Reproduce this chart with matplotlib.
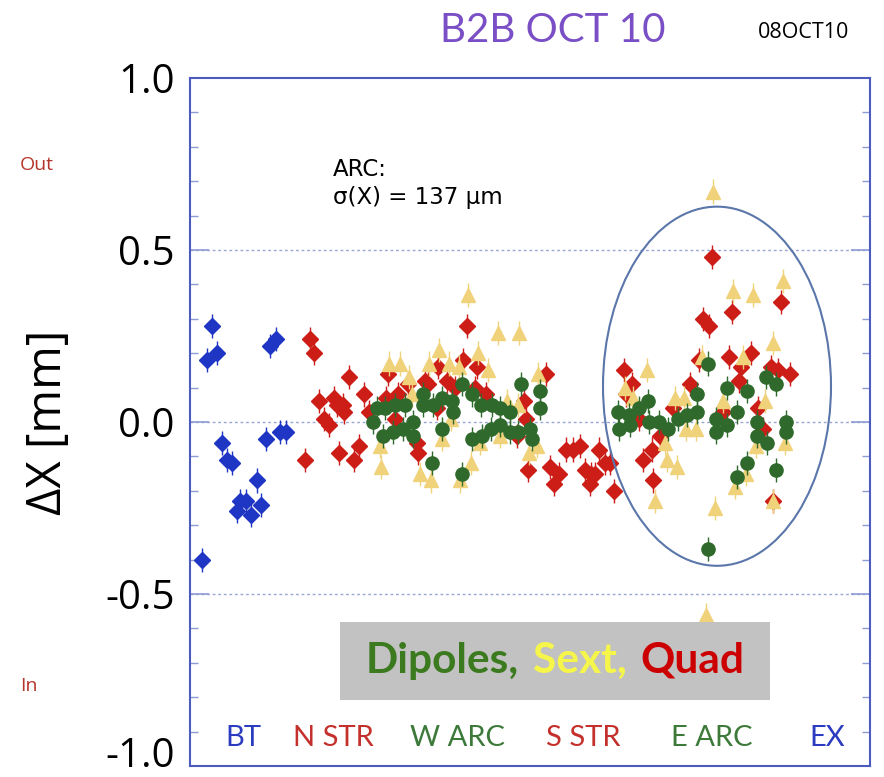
import numpy as np
import matplotlib
matplotlib.use("Agg")
import matplotlib.pyplot as plt
from matplotlib.patches import Ellipse, Rectangle
from matplotlib.offsetbox import TextArea, HPacker, AnchoredOffsetbox

# ring position (arbitrary units along the ring) and horizontal offset dX [mm]
bt_s = [12, 17, 22, 27, 32, 37, 42, 47, 50, 56, 61, 67, 71, 76, 80, 86, 90, 96]
bt_dx = [-0.40, 0.18, 0.28, 0.20, -0.06, -0.11, -0.12, -0.26, -0.23, -0.23,
         -0.27, -0.17, -0.24, -0.05, 0.22, 0.24, -0.03, -0.03]

quad_s = [115, 120, 124, 129, 134, 139, 144, 147, 149, 153, 154, 159, 164, 169,
          174, 179, 196, 198, 205, 208, 218,
          227, 228, 235, 238, 247, 248, 257, 265, 273, 277, 285, 287, 296, 327,
          334, 336, 338, 356,
          360, 364, 369, 376, 383, 390, 395, 400, 401, 405, 409, 415, 420, 424,
          434, 436, 442, 449, 453, 462, 463, 470, 483, 500, 509, 513, 519, 522,
          533, 539, 542, 549, 551, 561, 568, 573, 581, 583, 588, 591, 600]
quad_dx = [-0.11, 0.24, 0.20, 0.06, 0.01, -0.01, 0.07, 0.05, -0.09, 0.05, 0.03,
           0.13, -0.11, -0.07, 0.08, 0.03, 0.07, 0.14, 0.01, 0.08, 0.11,
           -0.06, -0.09, 0.12, 0.11, 0.04, 0.16, 0.12, 0.10, 0.18, 0.28, 0.10,
           0.16, 0.08, -0.04, 0.06, 0.01, -0.14, 0.14,
           -0.13, -0.18, -0.15, -0.08, -0.08, -0.07, -0.14, -0.18, -0.15, -0.15,
           -0.08, -0.12, -0.12, -0.20,
           0.15, 0.08, 0.11, 0.01, -0.11, -0.08, -0.17, -0.04, 0.04, 0.11, 0.18,
           0.30, 0.28, 0.48, 0.03, 0.19, 0.32, 0.12, 0.16, 0.20, 0.04, -0.02,
           0.16, -0.23, 0.15, 0.35, 0.14]

sext_s = [190, 191, 199, 210, 219, 222, 230, 239, 241, 249, 252, 259, 261, 269,
          270, 278, 281, 288, 290, 298, 308, 310, 317, 328, 329, 339, 347, 348,
          435, 443, 457, 465, 475, 477, 485, 487, 494, 496, 506, 512, 516, 523,
          525, 533, 543, 545, 553, 556, 563, 566, 575, 583, 583, 593, 595]
sext_dx = [-0.07, -0.13, 0.17, 0.17, 0.13, 0.08, -0.15, 0.17, -0.17, 0.21, -0.05,
           0.17, 0.01, 0.16, -0.17, 0.37, -0.12, 0.20, -0.06, 0.15, 0.26, -0.04,
           0.06, 0.05, 0.26, -0.09, -0.07, 0.14,
           0.10, 0.07, 0.15, -0.23, -0.06, -0.11, 0.07, -0.13, 0.07, -0.02,
           -0.02, 0.19, -0.56, 0.67, -0.25, 0.06, 0.38, -0.19, 0.19, -0.15, 0.37,
           -0.07, 0.06, 0.23, -0.23, 0.41, -0.06]

dip_s = [183, 187, 193, 195, 203, 205, 213, 215, 223, 223, 233, 233, 242, 243,
         252, 252, 262, 263, 272, 272, 282, 282, 291, 292, 301, 302, 310, 310,
         320, 320, 328, 331, 340, 342, 350, 350,
         428, 429, 439, 440, 449, 458, 459, 469, 478, 488, 497, 507, 507, 518,
         518, 526, 526, 537, 537, 547, 547, 557, 557, 567, 567, 576, 577, 586,
         586, 596, 596]
dip_dx = [-0.00, 0.04, -0.04, 0.04, -0.03, 0.05, -0.02, 0.05, 0.00, -0.04, 0.08,
          0.05, -0.12, 0.05, 0.07, -0.02, 0.06, 0.03, -0.15, 0.11, 0.08, -0.05,
          0.05, -0.04, -0.02, 0.05, 0.04, -0.01, 0.03, -0.03, -0.03, 0.11,
          -0.02, -0.05, 0.09, 0.04,
          0.03, -0.02, 0.02, -0.01, 0.04, 0.06, 0.00, 0.00, -0.02, 0.01, 0.02,
          0.03, 0.08, 0.17, -0.37, 0.01, -0.03, 0.10, -0.01, 0.03, -0.16, 0.09,
          -0.12, 0.00, -0.04, 0.13, -0.06, 0.11, -0.14, 0.00, -0.03]

err = 0.035

yticks = [-1.0, -0.5, 0.0, 0.5, 1.0]
ytick_labels = ['-1.0', '-0.5', '0.0', '0.5', '1.0']

sections = ['BT', 'N STR', 'W ARC', 'S STR', 'E ARC', 'EX']
section_s = [53, 143, 268, 393, 522, 637]
section_colors = ['#2b3cc0', '#c4302b', '#3d7a3a', '#c4302b', '#3d7a3a', '#2b3cc0']

blue = '#1f35c4'
red = '#cc1d17'
yellow = '#f0d27a'
green = '#2f6a2c'
frame = '#4b5cc0'

fig = plt.figure(figsize=(8.84, 7.77), dpi=100)
ax = fig.add_axes([190/884, 11/777, 680/884, 688/777])

ax.errorbar(bt_s, bt_dx, yerr=err, fmt='D', color=blue, ms=8, mec=blue,
            elinewidth=1, capsize=0, zorder=3)
ax.errorbar(quad_s, quad_dx, yerr=err, fmt='D', color=red, ms=8, mec=red,
            elinewidth=1, capsize=0, zorder=3)
ax.errorbar(sext_s, sext_dx, yerr=err, fmt='^', color=yellow, ms=9.5, mec=yellow,
            elinewidth=1, capsize=0, zorder=4)
ax.errorbar(dip_s, dip_dx, yerr=err, fmt='o', color=green, ms=9.5, mec=green,
            elinewidth=1, capsize=0, zorder=5)

ax.add_patch(Ellipse((527, 0.104), width=228, height=1.044, fill=False,
                     edgecolor='#5a76aa', lw=1.5, zorder=6))

ax.set_xlim(0, 680)
ax.set_ylim(-1.0, 1.0)
ax.set_xticks([])
# bottom label is drawn a little higher by hand so it is not clipped
ax.set_yticks(yticks)
ax.set_yticklabels([''] + ytick_labels[1:])
ax.set_yticks(np.arange(-0.9, 1.0, 0.1), minor=True)
ax.tick_params(axis='y', which='both', direction='in', right=True,
               colors='#8d9bd6', labelcolor='black')
ax.tick_params(axis='y', which='major', length=14, width=1.2, pad=11,
               labelsize=29, labelfontfamily='Open Sans')
ax.tick_params(axis='y', which='minor', length=6, width=1)
fig.text(175/884, 1 - 757/777, ytick_labels[0], fontsize=29, family='Open Sans',
         ha='right', va='center')
for y in [-0.5, 0.0, 0.5]:
    ax.axhline(y, color='#9aa6d6', lw=1, ls=(0, (2, 2)), zorder=1)
for sp in ax.spines.values():
    sp.set_color(frame)
    sp.set_linewidth(1.5)

for name, s, c in zip(sections, section_s, section_colors):
    ax.text(s, -0.92, name, color=c, fontsize=21, family='Lato',
            ha='center', va='center')

ax.text(143, 0.735, 'ARC:', fontsize=16.5, ha='left', va='center')
ax.text(143, 0.652, 'σ(X) = 137 μm', fontsize=16.5, ha='left', va='center')

# legend box
ax.add_patch(Rectangle((0.221, 0.096), 0.632, 0.113, transform=ax.transAxes,
                       facecolor='#c2c2c2', edgecolor='none', zorder=7))
parts = [('Dipoles,', '#3b7a1e'), ('Sext,', '#f6f64a'), ('Quad', '#cc0000')]
boxes = [TextArea(t, textprops=dict(color=c, fontsize=30.5, family='Lato',
                                    weight='bold')) for t, c in parts]
pack = HPacker(children=boxes, align='baseline', pad=0, sep=10)
anch = AnchoredOffsetbox(loc='center', child=pack, frameon=False, pad=0,
                         bbox_to_anchor=(0.537, 0.153),
                         bbox_transform=ax.transAxes, borderpad=0)
anch.set_zorder(8)
ax.add_artist(anch)

fig.text(48/884, 1 - 422/777, 'ΔX [mm]', rotation=90, ha='center', va='center',
         fontsize=34, family='Open Sans')
fig.text(20/884, 1 - 165/777, 'Out', color='#b5352c', fontsize=14,
         family='Open Sans', ha='left', va='center')
fig.text(20/884, 1 - 686/777, 'In', color='#b5352c', fontsize=14,
         family='Open Sans', ha='left', va='center')
fig.text(553/884, 1 - 30/777, 'B2B OCT 10', color='#7a4fc6', fontsize=29,
         family='Lato', ha='center', va='center')
fig.text(804/884, 1 - 32/777, '08OCT10', fontsize=15.5, family='Open Sans',
         ha='center', va='center')

fig.savefig('out.png', dpi=100)
